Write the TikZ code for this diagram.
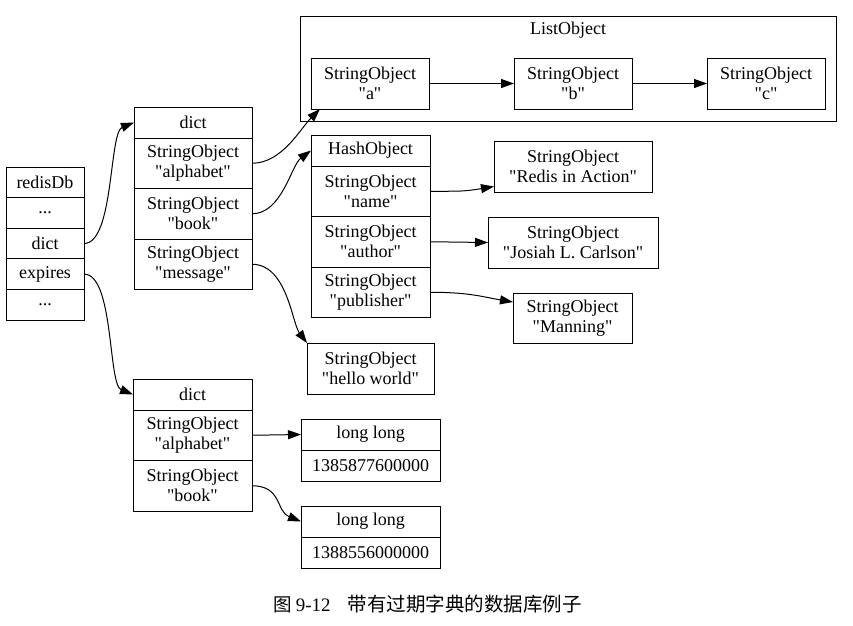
\documentclass[tikz,border=0pt]{standalone}
\usepackage{fontspec}
\setmainfont{Liberation Serif}[Ligatures=TeXOff]
\newfontfamily\cjkfont{Noto Sans CJK SC}
\usetikzlibrary{positioning,arrows.meta}

\tikzset{
	cell/.style={draw,line width=1pt,inner sep=0pt,outer sep=0pt,align=center,font=\fontsize{18}{20}\selectfont},
	head/.style={cell,minimum height=31pt},
	field/.style={cell,minimum height=50.5pt},
	dbrow/.style={cell,minimum width=78pt,minimum height=30.6pt},
	obj/.style={cell,minimum height=51pt,anchor=north west},
	link/.style={line width=1pt,-{Triangle[length=13pt,width=9pt]}}
}

\begin{document}
\begin{tikzpicture}[x=1pt,y=-1pt]
	\useasboundingbox (0,0) rectangle (853,625);
	% redisDb
	\node[dbrow,anchor=north west] (db) at (6,167) {redisDb};
	\node[dbrow,below=0pt of db] (dbdots) {...};
	\node[dbrow,below=0pt of dbdots] (dbdict) {dict};
	\node[dbrow,below=0pt of dbdict] (dbexp) {expires};
	\node[dbrow,below=0pt of dbexp] (dbend) {...};
	% dict
	\node[head,minimum width=118pt,anchor=north west] (d1head) at (134,107) {dict};
	\node[field,minimum width=118pt,below=0pt of d1head] (d1alpha) {StringObject\\ "alphabet"};
	\node[field,minimum width=118pt,below=0pt of d1alpha] (d1book) {StringObject\\ "book"};
	\node[field,minimum width=118pt,below=0pt of d1book] (d1msg) {StringObject\\ "message"};
	% expires
	\node[head,minimum width=119pt,anchor=north west] (d2head) at (133,379) {dict};
	\node[field,minimum width=119pt,below=0pt of d2head] (d2alpha) {StringObject\\ "alphabet"};
	\node[field,minimum width=119pt,below=0pt of d2alpha] (d2book) {StringObject\\ "book"};
	% ListObject
	\node[draw,line width=1pt,inner sep=0pt,outer sep=0pt,minimum width=536pt,minimum height=105pt,anchor=north west] (list) at (300,16) {};
	\node[cell,draw=none] (listname) at (568,30) {ListObject};
	\node[obj,minimum width=118pt] (a) at (311,58) {StringObject\\ "a"};
	\node[obj,minimum width=118pt] (b) at (514,58) {StringObject\\ "b"};
	\node[obj,minimum width=118pt] (c) at (707,58) {StringObject\\ "c"};
	% HashObject
	\node[head,minimum width=119pt,anchor=north west] (hhead) at (311,135) {HashObject};
	\node[field,minimum width=119pt,below=0pt of hhead] (hname) {StringObject\\ "name"};
	\node[field,minimum width=119pt,below=0pt of hname] (hauthor) {StringObject\\ "author"};
	\node[field,minimum width=119pt,below=0pt of hauthor] (hpub) {StringObject\\ "publisher"};
	\node[obj,minimum width=158pt] (redis) at (494,141) {StringObject\\ "Redis in Action"};
	\node[obj,minimum width=170pt] (josiah) at (488,217) {StringObject\\ "Josiah L. Carlson"};
	\node[obj,minimum width=119pt,minimum height=50pt] (manning) at (513,293) {StringObject\\ "Manning"};
	\node[obj,minimum width=127pt] (hello) at (307,343) {StringObject\\ "hello world"};
	% long long
	\node[head,minimum width=139pt,anchor=north west] (ll1head) at (301,419) {long long};
	\node[head,minimum width=139pt,below=0pt of ll1head] (ll1val) {1385877600000};
	\node[head,minimum width=139pt,anchor=north west] (ll2head) at (301,506) {long long};
	\node[head,minimum width=139pt,below=0pt of ll2head] (ll2val) {1388556000000};
	% caption
	\node[font=\fontsize{19}{22}\selectfont] (caption) at (427.5,604) {{\cjkfont\fontsize{18.5}{22}\selectfont 图}\hspace{4pt}9-12\hspace{17pt}{\cjkfont\fontsize{19.5}{22}\selectfont 带有过期字典的数据库例子}};

	\draw[link] (dbdict.east) .. controls +(30,0) and +(-25,10) .. (d1head.west);
	\draw[link] (dbexp.east) .. controls +(30,0) and +(-25,-10) .. (d2head.west);
	\draw[link] (d1alpha.east) .. controls +(30,0) and +(-20,20) .. ([xshift=9pt]a.south west);
	\draw[link] (d1book.east) .. controls +(30,0) and +(-20,15) .. (hhead.west);
	\draw[link] (d1msg.east) .. controls +(35,0) and +(-15,-20) .. (hello.north west);
	\draw[link] (a.east) -- (b.west);
	\draw[link] (b.east) -- (c.west);
	\draw[link] (hname.east) .. controls +(30,0) and +(-30,5) .. ([yshift=-20pt]redis.west);
	\draw[link] (hauthor.east) -- (josiah.west);
	\draw[link] (hpub.east) .. controls +(40,0) and +(-30,-5) .. ([yshift=16pt]manning.west);
	\draw[link] (d2alpha.east) -- (ll1head.west);
	\draw[link] (d2book.east) .. controls +(30,0) and +(-25,-10) .. (ll2head.west);
\end{tikzpicture}
\end{document}
